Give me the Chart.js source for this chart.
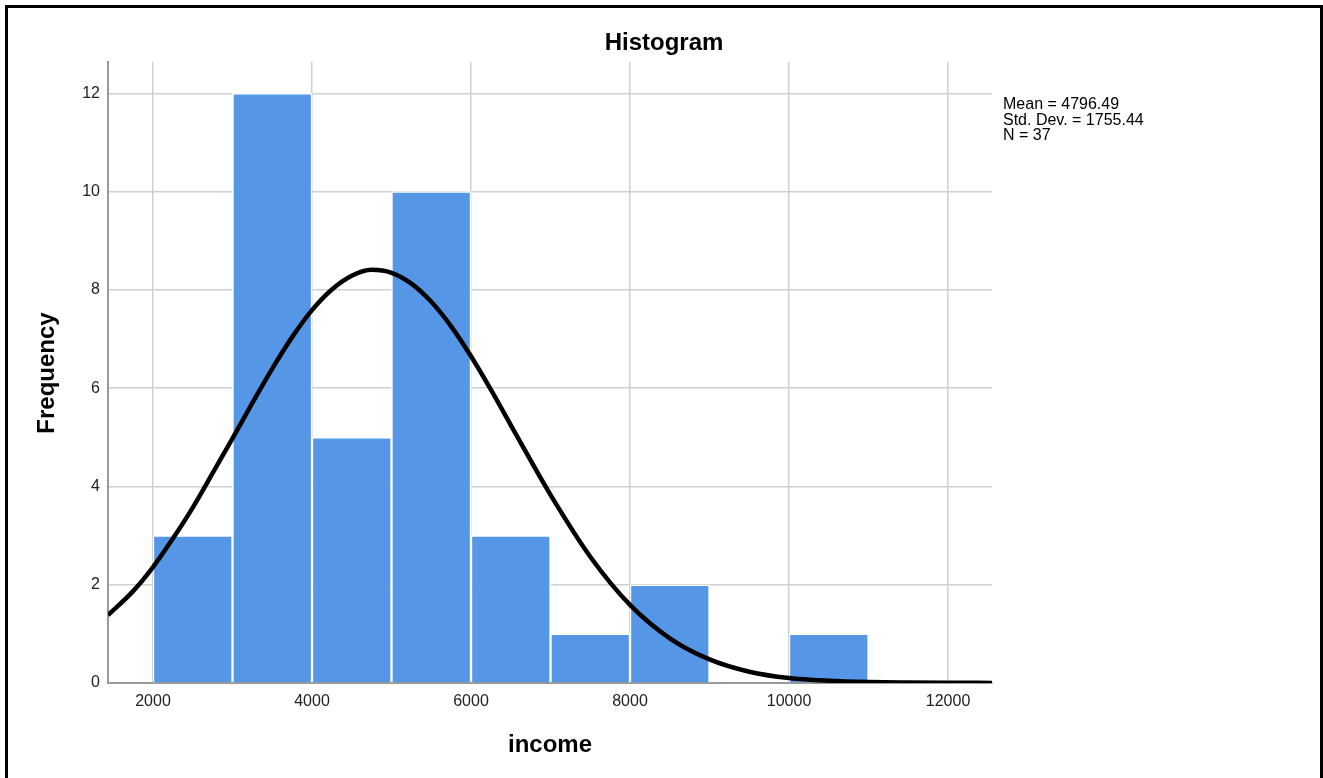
<!DOCTYPE html>
<html>
<head>
<meta charset="utf-8">
<script src="https://cdn.jsdelivr.net/npm/chart.js@4/dist/chart.umd.min.js"></script>
<style>
  html, body { margin: 0; padding: 0; background: #fff; overflow: hidden; }
  #wrap { position: relative; width: 1323px; height: 778px; }
  #frame { position: absolute; left: 5px; top: 5px; width: 1312px; height: 800px; border: 3px solid #000; pointer-events: none; }
  #stats { position: absolute; left: 1003px; top: 96px; font-family: "Liberation Sans", Arial, sans-serif; font-size: 16px; line-height: 15.5px; color: #000; white-space: pre; }
</style>
</head>
<body>
<div id="wrap">
  <canvas id="c" width="1323" height="778"></canvas>
  <div id="frame"></div>
  <div id="stats">Mean = 4796.49
Std. Dev. = 1755.44
N = 37</div>
</div>
<script>
// Histogram bins (bin centres) and frequencies
const binCenters = [2500, 3500, 4500, 5500, 6500, 7500, 8500, 9500, 10500];
const frequencies = [3, 12, 5, 10, 3, 1, 2, 0, 1];

// Normal curve, values
const curveX = [1434, 1750, 2000, 2250, 2500, 2750, 3000, 3250, 3500, 3750, 4000, 4250, 4500, 4750, 5000, 5250, 5500, 5750, 6000, 6250, 6500, 6750, 7000, 7500, 8000, 8500, 9000, 9500, 10000, 10500, 11000, 11500, 12000, 12553];
const curveY = [1.38, 1.87, 2.36, 2.94, 3.57, 4.27, 4.98, 5.70, 6.40, 7.04, 7.59, 8.01, 8.29, 8.41, 8.35, 8.13, 7.76, 7.26, 6.65, 5.97, 5.25, 4.53, 3.83, 2.57, 1.59, 0.91, 0.48, 0.23, 0.10, 0.045, 0.02, 0.01, 0.005, 0.002];

const xTicks = [2000, 4000, 6000, 8000, 10000, 12000];
const yTicks = [0, 2, 4, 6, 8, 10, 12];

const chartTitle = "Histogram";
const xTitle = "income";
const yTitle = "Frequency";

const FONT = '"Liberation Sans", Arial, sans-serif';

const textPlugin = {
  id: 'texts',
  afterDraw(chart) {
    const ctx = chart.ctx;
    ctx.save();
    ctx.fillStyle = '#000';
    ctx.textAlign = 'center';
    ctx.textBaseline = 'middle';
    ctx.font = 'bold 24px ' + FONT;
    ctx.fillText(chartTitle, 664, 43);
    ctx.fillText(xTitle, 550, 745);
    ctx.translate(47, 373);
    ctx.rotate(-Math.PI / 2);
    ctx.fillText(yTitle, 0, 0);
    ctx.restore();
  }
};

new Chart(document.getElementById('c'), {
  type: 'bar',
  data: {
    datasets: [
      {
        type: 'line',
        data: curveX.map((x, i) => ({ x: x, y: curveY[i] })),
        borderColor: '#000',
        borderWidth: 4.5,
        pointRadius: 0,
        cubicInterpolationMode: 'monotone',
        fill: false,
        order: 0
      },
      {
        type: 'bar',
        data: binCenters.map((x, i) => ({ x: x, y: frequencies[i] })),
        backgroundColor: '#5596e6',
        borderColor: '#ffffff',
        borderWidth: 1.5,
        borderSkipped: 'start',
        barPercentage: 1,
        categoryPercentage: 1,
        order: 1
      }
    ]
  },
  options: {
    responsive: false,
    animation: false,
    events: [],
    layout: { padding: { left: 68, right: 331, top: 62, bottom: 65 } },
    plugins: { legend: { display: false }, tooltip: { enabled: false }, title: { display: false } },
    scales: {
      x: {
        type: 'linear',
        min: 1434,
        max: 12553,
        offset: false,
        afterFit(s) { s.height = 30; },
        afterBuildTicks(s) { s.ticks = xTicks.map(v => ({ value: v })); },
        grid: { color: '#cfcfcf', lineWidth: 1.5, drawTicks: false, offset: false },
        border: { color: '#9a9a9a', width: 2 },
        ticks: { padding: 9, color: '#222', font: { family: FONT, size: 16 }, maxRotation: 0, callback: v => String(v) }
      },
      y: {
        type: 'linear',
        min: 0,
        max: 12.64,
        afterFit(s) { s.width = 40; },
        afterBuildTicks(s) { s.ticks = yTicks.map(v => ({ value: v })); },
        grid: { color: '#cfcfcf', lineWidth: 1.5, drawTicks: false },
        border: { color: '#9a9a9a', width: 2 },
        ticks: { padding: 8, color: '#222', font: { family: FONT, size: 16 }, callback: v => String(v) }
      }
    }
  },
  plugins: [textPlugin]
});
</script>
</body>
</html>
